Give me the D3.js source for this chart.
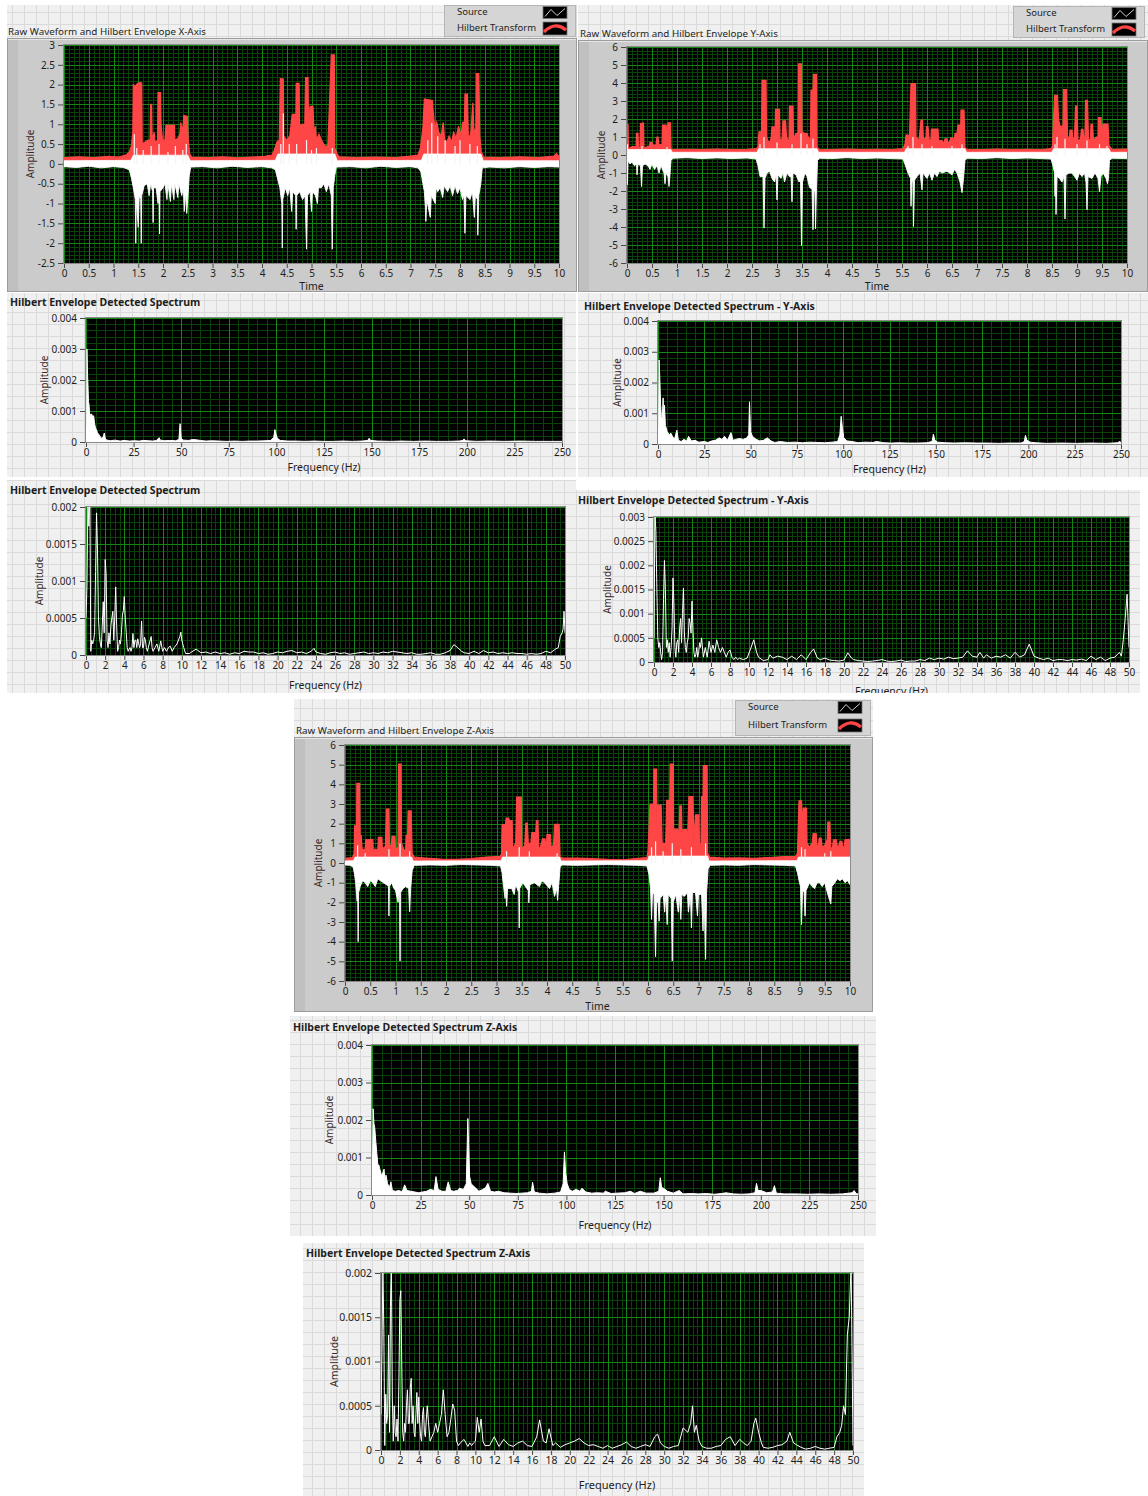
<!DOCTYPE html>
<html>
<head>
<meta charset="utf-8">
<script src="https://cdn.jsdelivr.net/npm/d3@7"></script>
<style>
  body { margin: 0; background: #ffffff; }
  svg { display: block; font-family: "Noto Sans", "DejaVu Sans", sans-serif; }
</style>
</head>
<body>
<script>
// ---------- tick labels ----------
const timeTicks = [0,0.5,1,1.5,2,2.5,3,3.5,4,4.5,5,5.5,6,6.5,7,7.5,8,8.5,9,9.5,10];
const ampTicksX = [3,2.5,2,1.5,1,0.5,0,-0.5,-1,-1.5,-2,-2.5];
const ampTicksYZ = [6,5,4,3,2,1,0,-1,-2,-3,-4,-5,-6];
const freqTicks250 = [0,25,50,75,100,125,150,175,200,225,250];
const freqTicks50 = [0,2,4,6,8,10,12,14,16,18,20,22,24,26,28,30,32,34,36,38,40,42,44,46,48,50];
const specTicks004 = [0,0.001,0.002,0.003,0.004];
const specTicks003 = [0,0.0005,0.001,0.0015,0.002,0.0025,0.003];
const specTicks002 = [0,0.0005,0.001,0.0015,0.002];

// ---------- X axis: raw waveform and Hilbert envelope [time s, amplitude] ----------
const envelopeX = [
 [0,0.16],[0.3,0.18],[0.6,0.16],[0.9,0.19],[1.1,0.17],[1.25,0.22],[1.32,0.3],
 [1.36,0.45],[1.39,0.8],[1.40,2.0],[1.44,1.95],[1.48,2.02],[1.53,2.05],[1.57,2.04],[1.58,0.5],
 [1.64,0.55],[1.70,0.6],[1.74,0.6],[1.75,1.5],[1.77,1.5],[1.78,0.6],[1.82,0.8],[1.84,0.55],
 [1.89,0.6],[1.90,1.8],[1.95,1.8],[1.96,1.0],[1.99,0.6],[2.04,0.6],[2.06,0.97],[2.23,0.97],
 [2.24,0.6],[2.30,0.65],[2.34,0.75],[2.36,1.05],[2.38,0.8],[2.41,1.0],[2.42,1.22],[2.49,1.2],
 [2.51,0.6],[2.54,0.25],[2.58,0.17],
 [2.9,0.16],[3.2,0.18],[3.5,0.15],[3.8,0.17],[4.05,0.19],[4.2,0.22],
 [4.25,0.35],[4.3,0.55],[4.35,0.6],[4.37,2.15],[4.43,2.14],[4.44,0.7],[4.5,0.6],[4.56,0.7],
 [4.61,1.25],[4.67,1.25],[4.68,0.7],[4.69,2.03],[4.75,2.03],[4.76,0.8],[4.79,1.0],[4.84,1.0],
 [4.86,0.7],[4.88,2.18],[4.93,2.18],[4.94,1.0],[4.97,1.45],[5.03,1.45],[5.05,0.8],[5.08,0.95],
 [5.1,0.6],[5.15,0.75],[5.2,0.6],[5.27,0.45],[5.33,0.45],[5.40,2.75],[5.46,2.75],[5.47,0.4],
 [5.52,0.25],[5.56,0.18],
 [5.9,0.16],[6.3,0.17],[6.7,0.16],[7.0,0.2],[7.15,0.22],[7.2,0.4],[7.25,0.9],
 [7.28,1.64],[7.44,1.6],[7.46,1.3],[7.49,0.9],[7.53,1.05],[7.57,0.8],[7.62,0.7],[7.66,1.05],
 [7.69,0.6],[7.73,0.55],[7.78,0.7],[7.83,0.55],[7.87,0.8],[7.92,0.65],[7.97,0.95],[8.02,0.7],
 [8.05,1.05],[8.09,1.05],[8.1,1.76],[8.15,1.76],[8.17,0.6],[8.22,0.8],[8.26,1.55],[8.28,0.8],
 [8.32,0.9],[8.33,2.28],[8.38,2.28],[8.4,0.7],[8.43,0.3],[8.48,0.17],
 [8.8,0.16],[9.2,0.18],[9.6,0.16],[9.9,0.2],[9.95,0.26],[10,0.18]
];
const sourceTopX = [[0,0.08],[1.35,0.09],[1.4,0.22],[2.5,0.22],[2.55,0.08],[4.27,0.09],[4.32,0.25],[5.47,0.25],[5.52,0.08],[7.22,0.09],[7.27,0.25],[8.42,0.25],[8.47,0.08],[10,0.08]];
const sourcePeaksX = [[1.42,0.75],[1.47,0.4],[1.6,0.35],[1.76,0.45],[1.92,0.5],[2.1,0.3],[2.25,0.45],[2.4,0.35],[2.47,0.5],[4.38,0.5],[4.43,1.28],[4.55,0.5],[4.7,0.5],[4.9,0.6],[5.0,0.35],[5.1,0.4],[5.42,0.4],[7.35,0.6],[7.43,1.03],[7.55,0.7],[7.7,0.6],[7.9,0.45],[8.0,0.6],[8.2,0.5],[8.35,0.45]];
const sourceTroughX = [
 [0,-0.07],[0.25,-0.09],[0.5,-0.06],[0.75,-0.1],[1.0,-0.07],[1.2,-0.09],[1.32,-0.15],
 [1.36,-0.35],[1.40,-0.6],[1.44,-0.9],[1.45,-2.0],[1.46,-0.9],[1.50,-1.6],[1.52,-0.8],[1.55,-0.9],[1.56,-2.0],[1.57,-0.8],
 [1.62,-0.55],[1.68,-0.5],[1.72,-0.8],[1.75,-0.5],[1.79,-0.7],[1.80,-1.48],[1.81,-0.6],[1.86,-0.6],[1.90,-1.0],[1.92,-0.7],
 [1.93,-1.77],[1.94,-0.7],[2.0,-0.6],[2.04,-0.5],[2.08,-0.9],[2.1,-0.5],[2.15,-0.95],[2.17,-0.5],[2.22,-0.9],[2.24,-0.5],
 [2.3,-0.85],[2.32,-0.5],[2.38,-0.8],[2.41,-0.6],[2.43,-1.2],[2.45,-0.7],[2.48,-1.25],[2.5,-0.9],[2.53,-0.3],[2.56,-0.08],
 [2.8,-0.07],[3.1,-0.1],[3.4,-0.06],[3.7,-0.09],[4.0,-0.07],[4.2,-0.1],[4.27,-0.15],
 [4.32,-0.4],[4.36,-0.6],[4.4,-1.0],[4.41,-2.12],[4.42,-0.9],[4.47,-0.6],[4.52,-0.8],[4.56,-0.6],[4.6,-1.2],[4.62,-0.7],
 [4.68,-0.8],[4.69,-1.65],[4.7,-0.8],[4.76,-0.7],[4.82,-0.9],[4.87,-0.8],[4.9,-2.15],[4.92,-0.8],[4.97,-0.7],[5.0,-1.2],[5.02,-0.7],
 [5.08,-0.8],[5.12,-1.0],[5.14,-0.6],[5.2,-0.6],[5.25,-0.5],[5.3,-0.7],[5.35,-0.5],[5.4,-0.8],[5.42,-2.15],[5.44,-0.6],[5.47,-0.3],[5.5,-0.08],
 [5.8,-0.07],[6.1,-0.1],[6.4,-0.06],[6.7,-0.09],[7.0,-0.07],[7.15,-0.1],[7.21,-0.2],
 [7.25,-0.5],[7.28,-0.7],[7.3,-1.1],[7.31,-1.45],[7.33,-0.9],[7.36,-1.1],[7.4,-1.35],[7.42,-0.8],[7.46,-0.9],[7.5,-1.0],[7.52,-0.6],
 [7.55,-0.7],[7.6,-0.6],[7.65,-0.85],[7.68,-0.55],[7.75,-0.7],[7.8,-0.55],[7.85,-0.8],[7.9,-0.55],[7.95,-0.75],[8.0,-0.6],
 [8.05,-0.9],[8.08,-0.8],[8.1,-1.75],[8.12,-0.8],[8.2,-0.9],[8.25,-0.7],[8.29,-1.35],[8.31,-0.8],[8.35,-0.9],[8.36,-1.8],[8.38,-0.8],
 [8.42,-0.5],[8.45,-0.1],[8.6,-0.08],[8.9,-0.1],[9.2,-0.07],[9.5,-0.09],[9.8,-0.07],[10,-0.08]
];

// ---------- Y axis: raw waveform and Hilbert envelope ----------
const envelopeY = [
 [0,1.72],[0.02,1.7],[0.03,0.35],[0.06,0.4],[0.1,0.46],[0.15,0.46],[0.18,0.45],[0.19,1.2],[0.22,1.2],[0.23,0.4],
 [0.26,0.45],[0.27,1.75],[0.33,1.78],[0.34,0.4],[0.4,0.45],[0.45,0.5],[0.46,0.7],[0.5,0.7],[0.52,0.55],[0.58,0.55],
 [0.6,1.0],[0.62,1.0],[0.64,0.55],[0.7,0.6],[0.71,1.66],[0.78,1.66],[0.8,1.4],[0.82,1.79],[0.87,1.79],[0.88,0.35],[0.92,0.3],
 [1.2,0.32],[1.5,0.3],[1.8,0.33],[2.1,0.3],[2.4,0.32],[2.58,0.35],
 [2.62,0.45],[2.64,1.29],[2.67,1.29],[2.69,1.0],[2.70,4.15],[2.78,4.15],[2.79,1.0],[2.84,0.65],[2.88,0.9],[2.9,1.57],[2.94,1.57],[2.96,1.0],
 [2.97,2.53],[3.05,2.53],[3.06,0.8],[3.1,0.9],[3.12,1.9],[3.17,1.9],[3.19,1.0],[3.24,0.7],[3.25,2.71],[3.32,2.71],[3.33,0.9],
 [3.38,1.2],[3.42,1.2],[3.43,5.07],[3.49,5.07],[3.5,1.3],[3.55,1.2],[3.6,1.2],[3.64,0.9],[3.67,0.9],[3.68,3.6],[3.72,3.6],[3.73,4.48],[3.79,4.48],[3.8,0.45],[3.84,0.32],
 [4.1,0.3],[4.4,0.33],[4.7,0.3],[5.0,0.32],[5.3,0.3],[5.52,0.35],
 [5.56,0.6],[5.58,1.1],[5.62,1.1],[5.65,1.0],[5.68,3.97],[5.77,3.97],[5.78,1.0],[5.84,0.8],[5.88,1.94],[5.91,1.94],[5.93,0.8],[5.98,1.0],[5.99,1.57],[6.02,1.57],[6.05,0.7],
 [6.08,0.9],[6.09,1.44],[6.22,1.44],[6.24,0.5],[6.26,0.8],[6.3,0.8],[6.33,0.6],[6.36,0.9],[6.4,0.9],[6.43,0.6],[6.48,0.95],[6.52,0.95],[6.54,0.6],
 [6.56,1.2],[6.6,1.2],[6.62,1.66],[6.65,1.66],[6.67,1.0],[6.68,2.49],[6.74,2.49],[6.76,0.4],[6.8,0.32],
 [7.1,0.3],[7.4,0.33],[7.7,0.3],[8.0,0.32],[8.3,0.3],[8.48,0.35],
 [8.51,0.5],[8.55,3.32],[8.61,3.32],[8.63,2.0],[8.66,1.6],[8.72,1.6],[8.73,3.63],[8.79,3.63],[8.81,1.0],[8.85,1.0],[8.86,1.38],[8.9,1.38],[8.92,0.8],
 [8.95,1.0],[8.97,2.71],[9.0,2.71],[9.02,0.75],[9.07,0.9],[9.09,1.42],[9.12,1.42],[9.14,0.9],[9.16,1.0],[9.17,3.04],[9.21,3.04],[9.23,0.8],
 [9.27,0.9],[9.28,1.7],[9.31,1.7],[9.33,0.8],[9.38,1.0],[9.42,1.0],[9.43,2.08],[9.48,2.08],[9.5,0.9],[9.52,1.72],[9.62,1.72],[9.64,0.5],[9.7,0.32],
 [10,0.33]
];
const sourceTopY = [[0,0.15],[0.02,0.3],[0.88,0.3],[0.9,0.15],[2.6,0.15],[2.63,0.35],[3.8,0.35],[3.83,0.15],[5.55,0.15],[5.58,0.35],[6.76,0.35],[6.79,0.15],[8.5,0.15],[8.53,0.35],[9.64,0.35],[9.67,0.15],[10,0.15]];
const sourcePeaksY = [[0.01,0.6],[0.3,0.5],[0.8,0.45],[2.66,0.6],[2.74,1.0],[3.0,0.7],[3.3,0.6],[3.48,1.2],[3.6,0.6],[3.72,0.9],[5.62,0.5],[5.72,1.0],[5.9,0.6],[6.1,0.5],[6.5,0.5],[6.7,0.6],[8.56,0.6],[8.6,1.0],[8.76,0.9],[9.0,0.6],[9.2,0.8],[9.45,0.6],[9.6,0.5]];
const sourceTroughY = [
 [0,-1.66],[0.01,-1.6],[0.02,-0.3],[0.06,-0.5],[0.1,-0.4],[0.15,-0.6],[0.19,-0.5],[0.2,-1.1],[0.22,-0.5],[0.27,-0.6],[0.29,-1.75],[0.31,-0.6],
 [0.36,-0.5],[0.42,-0.6],[0.46,-0.8],[0.5,-0.5],[0.55,-0.8],[0.6,-0.6],[0.64,-1.0],[0.68,-0.6],[0.74,-1.0],[0.76,-1.6],[0.78,-1.0],[0.82,-1.2],[0.84,-1.75],[0.86,-1.1],[0.88,-0.3],[0.92,-0.18],
 [1.2,-0.15],[1.5,-0.2],[1.8,-0.16],[2.1,-0.2],[2.4,-0.17],[2.58,-0.22],
 [2.62,-0.6],[2.66,-1.2],[2.72,-1.2],[2.74,-4.06],[2.76,-1.3],[2.8,-1.0],[2.85,-0.9],[2.9,-1.3],[2.95,-1.5],[2.98,-1.1],[3.0,-2.5],[3.02,-1.1],
 [3.08,-1.3],[3.12,-1.0],[3.15,-1.5],[3.2,-1.0],[3.25,-1.2],[3.28,-1.2],[3.3,-2.6],[3.32,-1.0],[3.38,-1.1],[3.44,-1.5],[3.47,-1.4],[3.49,-5.04],[3.51,-1.5],
 [3.56,-1.0],[3.6,-1.2],[3.65,-1.8],[3.7,-1.9],[3.72,-4.15],[3.74,-2.0],[3.76,-2.0],[3.77,-4.1],[3.79,-1.8],[3.81,-0.3],[3.85,-0.18],
 [4.1,-0.2],[4.4,-0.15],[4.7,-0.2],[5.0,-0.17],[5.3,-0.2],[5.52,-0.22],
 [5.57,-0.6],[5.62,-1.0],[5.67,-1.3],[5.68,-2.85],[5.7,-1.5],[5.72,-1.4],[5.73,-3.97],[5.75,-1.4],[5.8,-1.2],[5.86,-1.0],[5.9,-1.94],[5.92,-1.0],
 [6.0,-1.3],[6.05,-1.0],[6.1,-1.4],[6.15,-1.0],[6.2,-1.2],[6.25,-0.9],[6.3,-1.0],[6.4,-0.9],[6.5,-1.1],[6.55,-0.8],[6.6,-1.0],[6.66,-1.5],[6.7,-2.09],[6.73,-1.3],[6.76,-0.3],[6.8,-0.18],
 [7.1,-0.2],[7.4,-0.15],[7.7,-0.2],[8.0,-0.17],[8.3,-0.2],[8.48,-0.22],
 [8.52,-0.6],[8.55,-1.0],[8.56,-2.3],[8.57,-1.2],[8.58,-3.3],[8.6,-1.2],[8.65,-1.3],[8.7,-1.5],[8.74,-1.2],[8.76,-3.56],[8.78,-1.1],[8.84,-1.0],[8.9,-1.0],[8.95,-1.2],[9.0,-1.4],[9.05,-1.0],
 [9.1,-1.2],[9.15,-1.0],[9.18,-1.5],[9.2,-3.04],[9.22,-1.2],[9.3,-1.3],[9.36,-1.0],[9.42,-1.3],[9.45,-2.03],[9.48,-1.2],[9.52,-1.0],[9.58,-1.3],[9.61,-1.6],[9.63,-1.3],[9.65,-0.3],[9.7,-0.18],
 [10,-0.2]
];

// ---------- Z axis: raw waveform and Hilbert envelope ----------
const envelopeZ = [
 [0,0.24],[0.08,0.26],[0.15,0.28],[0.18,0.5],[0.19,1.89],[0.23,1.89],[0.235,4.05],[0.29,4.05],[0.3,1.39],[0.32,1.39],[0.34,0.7],[0.4,0.7],
 [0.41,1.18],[0.55,1.2],[0.56,0.7],[0.65,0.7],[0.66,1.3],[0.73,1.3],[0.74,0.7],[0.8,0.85],[0.82,2.74],[0.87,2.74],[0.88,0.9],[0.92,0.9],
 [0.93,1.35],[0.99,1.35],[1.0,0.7],[1.05,0.8],[1.06,5.03],[1.11,5.03],[1.12,1.0],[1.16,0.7],[1.2,0.6],[1.21,1.4],[1.24,1.4],[1.25,2.65],[1.31,2.65],[1.33,0.5],[1.37,0.3],
 [1.6,0.25],[1.9,0.2],[2.2,0.18],[2.5,0.22],[2.8,0.3],[3.0,0.32],[3.08,0.33],
 [3.1,0.5],[3.11,1.95],[3.18,1.95],[3.19,2.28],[3.24,2.28],[3.26,2.15],[3.31,2.15],[3.32,0.7],[3.38,1.0],[3.4,3.35],[3.49,3.35],[3.5,0.7],[3.56,0.9],
 [3.58,2.03],[3.61,2.03],[3.63,1.0],[3.68,1.0],[3.7,1.55],[3.75,1.55],[3.77,1.2],[3.79,2.16],[3.82,2.16],[3.84,0.6],[3.89,1.0],[3.91,1.23],[3.96,1.23],[3.98,0.7],
 [4.0,1.44],[4.07,1.44],[4.08,0.8],[4.13,0.9],[4.15,1.97],[4.24,1.97],[4.26,0.3],[4.3,0.26],
 [4.6,0.25],[4.9,0.22],[5.2,0.18],[5.5,0.16],[5.8,0.24],[5.98,0.28],
 [6.0,0.6],[6.04,2.99],[6.11,2.99],[6.115,4.78],[6.17,4.78],[6.18,1.2],[6.19,1.2],[6.2,2.95],[6.26,2.95],[6.28,1.0],[6.35,1.0],[6.37,3.18],[6.41,3.18],[6.42,1.0],
 [6.44,5.03],[6.5,5.03],[6.51,1.0],[6.52,1.72],[6.59,1.72],[6.61,1.0],[6.63,2.9],[6.66,2.9],[6.68,1.0],[6.7,1.7],[6.76,1.7],[6.78,1.0],[6.81,3.38],[6.89,3.38],[6.91,1.0],
 [6.94,2.45],[7.0,2.45],[7.02,0.9],[7.05,1.0],[7.06,3.38],[7.09,3.38],[7.095,4.95],[7.17,4.95],[7.18,0.5],[7.22,0.3],
 [7.5,0.25],[7.8,0.26],[8.1,0.24],[8.4,0.28],[8.7,0.33],[8.92,0.33],
 [8.96,0.5],[8.99,3.16],[9.04,3.16],[9.06,2.1],[9.08,2.79],[9.14,2.79],[9.15,1.0],[9.2,0.8],[9.25,1.0],[9.27,1.49],[9.33,1.49],[9.35,0.7],[9.38,1.0],[9.39,1.27],[9.43,1.27],[9.45,0.8],
 [9.5,0.9],[9.55,1.2],[9.56,2.08],[9.6,2.08],[9.62,0.8],[9.65,0.7],[9.67,1.18],[9.73,1.18],[9.75,0.8],[9.78,0.9],[9.8,1.1],[9.84,1.1],[9.86,0.7],[9.89,0.9],[9.9,1.18],[10,1.2]
];
const sourceTopZ = [[0,0.1],[0.17,0.12],[0.2,0.3],[1.32,0.3],[1.35,0.1],[3.09,0.12],[3.12,0.3],[4.25,0.3],[4.28,0.1],[5.99,0.12],[6.02,0.35],[7.18,0.35],[7.21,0.1],[8.95,0.12],[8.98,0.3],[10,0.3]];
const sourcePeaksZ = [[0.25,0.9],[0.4,0.5],[0.87,0.7],[1.09,1.0],[1.28,0.6],[3.2,0.6],[3.45,0.8],[3.65,0.6],[4.2,0.5],[6.07,0.8],[6.15,1.1],[6.3,0.6],[6.48,1.0],[6.65,0.7],[6.86,0.8],[7.14,1.0],[9.04,0.8],[9.11,0.7],[9.5,0.5],[9.62,0.6]];
const sourceTroughZ = [
 [0,-0.1],[0.1,-0.12],[0.16,-0.2],[0.19,-0.6],[0.21,-1.0],[0.24,-1.94],[0.25,-1.2],[0.26,-4.0],[0.27,-1.5],[0.3,-1.2],[0.35,-0.9],[0.4,-1.0],[0.45,-1.2],[0.5,-0.9],[0.55,-1.0],[0.6,-1.2],
 [0.65,-0.8],[0.7,-0.9],[0.76,-1.0],[0.82,-1.1],[0.86,-1.2],[0.87,-2.7],[0.88,-1.2],[0.92,-1.0],[0.97,-1.3],[1.0,-1.4],[1.05,-2.0],[1.08,-1.4],[1.09,-4.98],[1.1,-1.5],[1.15,-1.3],[1.2,-1.2],
 [1.26,-1.3],[1.28,-2.48],[1.3,-1.3],[1.33,-0.4],[1.37,-0.12],
 [1.7,-0.1],[2.0,-0.12],[2.3,-0.08],[2.6,-0.1],[2.9,-0.12],[3.08,-0.15],
 [3.11,-0.5],[3.14,-1.2],[3.17,-1.8],[3.18,-1.2],[3.2,-2.2],[3.22,-1.3],[3.3,-1.3],[3.35,-1.6],[3.38,-1.1],[3.44,-1.5],[3.45,-3.3],[3.46,-1.3],[3.52,-1.0],[3.6,-1.3],
 [3.63,-1.4],[3.64,-2.03],[3.66,-1.1],[3.75,-1.0],[3.85,-1.2],[3.9,-0.9],[3.95,-1.0],[4.05,-1.3],[4.1,-1.0],[4.15,-1.7],[4.19,-1.3],[4.21,-1.9],[4.23,-1.2],[4.26,-0.2],[4.3,-0.1],
 [4.6,-0.12],[4.9,-0.1],[5.2,-0.08],[5.5,-0.1],[5.8,-0.12],[5.98,-0.15],
 [6.02,-0.6],[6.05,-1.3],[6.07,-2.87],[6.09,-1.5],[6.12,-1.6],[6.15,-4.76],[6.17,-2.0],[6.2,-2.0],[6.22,-2.96],[6.24,-1.8],[6.3,-1.6],[6.33,-2.5],[6.35,-1.6],[6.38,-3.13],[6.4,-1.6],
 [6.46,-1.8],[6.48,-4.98],[6.5,-2.0],[6.55,-1.6],[6.6,-2.5],[6.62,-1.6],[6.65,-2.87],[6.67,-1.6],[6.72,-1.7],[6.78,-1.5],[6.8,-2.5],[6.84,-1.6],[6.86,-3.3],[6.88,-1.5],[6.94,-1.5],
 [6.98,-2.7],[7.0,-1.6],[7.06,-1.6],[7.09,-3.46],[7.11,-1.6],[7.14,-4.9],[7.16,-1.5],[7.19,-0.3],[7.23,-0.12],
 [7.5,-0.1],[7.8,-0.12],[8.1,-0.08],[8.4,-0.1],[8.7,-0.12],[8.92,-0.15],
 [8.96,-0.5],[9.0,-1.0],[9.02,-1.2],[9.04,-3.13],[9.06,-1.5],[9.09,-1.4],[9.11,-2.7],[9.13,-1.4],[9.2,-1.0],[9.25,-1.2],[9.3,-1.3],[9.35,-1.0],[9.4,-1.0],[9.45,-1.2],[9.5,-1.0],
 [9.55,-1.5],[9.62,-2.08],[9.64,-1.2],[9.7,-1.0],[9.75,-0.8],[9.8,-0.9],[9.85,-0.8],[9.9,-1.0],[9.95,-0.9],[10,-1.1]
];

// ---------- envelope spectra 0-250 Hz [frequency Hz, amplitude] ----------
const spectrumX250 = [
 [0,0.0005],[0.3,0.0003],[0.5,0.003],[0.8,0.0022],[1,0.0019],[1.3,0.0013],[1.6,0.0012],[2,0.0008],[2.5,0.0009],[3,0.0009],[3.5,0.0008],[4,0.00085],[4.5,0.0006],[5,0.00045],[5.5,0.0004],[6,0.0003],[7,0.00022],[8,0.00012],[9,0.00015],[9.6,0.00029],[10.2,0.0001],[11,0.00006],
 [13,0.00004],[15,0.00006],[18,0.00003],[20,0.00005],[23,0.00003],[25,0.00004],[28,0.00003],[30,0.00005],[33,0.00004],[35,0.00003],[37,0.00005],[38.4,0.00014],[39,0.00006],[41,0.00004],[44,0.00005],[47,0.00004],[48.8,0.00008],[49.4,0.00059],[50,0.00012],[51,0.00006],
 [54,0.00005],[56,0.00008],[58,0.00007],[60,0.00005],[63,0.00003],[66,0.00004],[70,0.00003],[74,0.00002],[78,0.00003],[82,0.00002],[86,0.00003],[90,0.00003],[94,0.00004],[97,0.00005],[98.6,0.00015],[99.2,0.0004],[99.8,0.00025],[100.5,0.00012],[102,0.00005],
 [106,0.00003],[110,0.00003],[115,0.00002],[120,0.00003],[125,0.00002],[130,0.00002],[135,0.00003],[140,0.00002],[145,0.00003],[148,0.00005],[148.7,0.00012],[149.5,0.00005],[153,0.00003],
 [160,0.00002],[166,0.00003],[172,0.00002],[178,0.00003],[184,0.00002],[190,0.00002],[196,0.00003],[198,0.00005],[198.5,0.0001],[199.5,0.00004],[205,0.00002],[212,0.00003],[220,0.00002],[228,0.00003],[236,0.00002],[244,0.00002],[250,0.00002]
];
const spectrumY250 = [
 [0,0.0005],[0.3,0.0004],[0.6,0.00273],[1,0.0021],[1.4,0.0013],[1.8,0.0009],[2.3,0.0008],[2.76,0.0015],[3.1,0.0007],[3.5,0.00126],[4,0.0006],[5,0.0004],[6,0.0003],[7,0.00035],[8,0.00022],[9,0.00018],[10.2,0.00045],[11,0.00012],[12.5,0.00008],
 [14,0.00015],[15.5,0.0001],[16.5,0.00025],[18,0.0001],[20,0.00012],[22,0.00006],[25,0.00008],[27,0.00005],[29,0.0001],[31,0.00012],[33,0.0002],[34.5,0.00015],[36,0.00025],[37.5,0.00012],[39.4,0.00037],[40.5,0.00012],[42,0.00015],[44,0.00018],[46,0.00015],[48,0.0002],[49,0.0003],[49.4,0.00137],[50,0.0004],[51,0.00025],
 [53,0.00015],[55,0.0001],[57,0.00012],[59,0.0002],[61,0.0001],[63,0.00005],[66,0.00008],[70,0.00005],[74,0.00006],[78,0.00004],[82,0.00006],[86,0.00005],[90,0.00004],[94,0.00006],[97,0.00008],[98.2,0.0003],[98.9,0.0009],[99.6,0.0005],[100.3,0.0002],[102,0.0001],
 [105,0.00008],[108,0.00004],[112,0.00006],[116,0.00005],[118,0.00008],[122,0.00004],[126,0.00003],[130,0.00004],[135,0.00003],[140,0.00003],[145,0.00004],[148,0.00008],[148.7,0.00032],[149.5,0.00012],[151,0.00006],[155,0.00004],
 [160,0.00003],[166,0.00004],[172,0.00003],[178,0.00003],[184,0.00002],[190,0.00003],[196,0.00003],[197.8,0.00008],[198.4,0.00028],[199.2,0.00012],[201,0.00006],[204,0.00004],[210,0.00002],[218,0.00003],[226,0.00002],[234,0.00003],[242,0.00002],[248,0.00004],[249.5,0.00008],[250,0.00003]
];
const spectrumZ250 = [
 [0,0.0011],[0.3,0.0009],[0.6,0.0023],[1,0.0019],[1.4,0.0018],[2,0.0014],[2.5,0.0011],[3,0.0008],[3.5,0.0008],[4,0.0007],[5,0.0005],[6.2,0.00069],[6.7,0.00035],[7.2,0.00053],[8,0.0003],[9,0.0002],[9.7,0.00035],[10.5,0.00012],[12,0.0001],
 [14,0.00012],[15.5,0.00008],[16.8,0.00027],[18,0.00012],[20,0.0001],[22,0.00008],[24,0.00006],[26,0.00008],[28,0.0001],[30,0.00015],[32,0.00012],[32.9,0.00049],[34,0.00015],[36,0.0001],[38,0.0001],[39.2,0.00035],[40.5,0.00012],[42,0.0001],[44,0.00012],[45,0.00018],[47,0.00015],[48.5,0.0003],[49.3,0.00204],[49.7,0.00133],[50.2,0.0005],[51,0.0003],
 [53,0.0002],[55,0.0001],[57,0.00015],[58.5,0.0002],[59.6,0.00031],[61,0.0001],[63,0.00008],[65,0.0001],[68,0.00006],[71,0.00005],[74,0.00004],[77,0.00005],[80,0.00006],[82,0.0001],[82.6,0.00034],[83.5,0.00008],[86,0.00005],[90,0.00003],[94,0.00005],[97,0.00008],[98.3,0.0003],[99,0.00115],[99.6,0.0006],[100.4,0.0003],[101.5,0.00015],
 [103,0.0001],[105,0.00015],[107,0.0001],[108,0.00018],[110,0.00008],[113,0.00005],[116,0.00006],[119,0.00005],[120,0.0001],[123,0.00004],[126,0.00005],[130,0.00006],[133,0.0001],[135,0.00004],[138,0.0001],[141,0.00005],[145,0.00005],[147.5,0.0001],[148.3,0.00046],[149,0.0002],[150,0.00018],[152,0.0001],
 [155,0.00005],[158,0.00012],[160,0.00003],[164,0.00004],[168,0.00003],[172,0.00004],[176,0.00002],[180,0.00004],[182,0.00006],[186,0.00003],[190,0.00002],[194,0.00003],[197,0.00006],[197.8,0.00031],[198.6,0.00012],[200,0.00012],[203,0.00006],[206,0.00008],[207,0.00025],[208,0.00005],[212,0.00003],[218,0.00003],[224,0.00002],[230,0.00003],[236,0.00002],[242,0.00003],[247,0.00006],[248,0.00012],[249,0.00004],[250,0.00003]
];

// ---------- envelope spectra 0-50 Hz ----------
const spectrumX50 = [
 [0,0.0005],[0.1,0.00093],[0.2,0.0021],[0.3,0.00174],[0.4,0.0022],[0.5,0.00005],[0.6,0.0002],[0.7,0.00015],[0.8,0.0002],[0.9,0.0003],
 [1.0,0.00113],[1.1,0.00192],[1.2,0.00143],[1.3,0.0005],[1.4,0.00025],[1.5,0.00015],[1.6,0.0001],[1.7,0.0004],[1.8,0.00072],[1.9,0.0003],
 [2.0,0.00129],[2.1,0.0011],[2.2,0.0002],[2.3,0.0001],[2.4,0.0003],[2.5,0.00015],[2.6,0.0004],[2.7,0.0005],[2.8,0.00059],[2.9,0.0002],
 [3.0,0.0005],[3.1,0.00092],[3.2,0.0004],[3.3,0.00005],[3.4,0.0001],[3.5,0.0002],[3.6,0.00015],[3.7,0.0003],[3.8,0.00054],[3.9,0.0006],
 [4.0,0.00079],[4.1,0.0005],[4.2,0.0003],[4.3,0.0001],[4.4,0.00005],[4.5,0.00008],[4.6,0.0001],[4.7,0.00005],[4.8,0.0001],[4.9,0.00029],
 [5.0,0.0001],[5.1,0.0002],[5.2,0.0002],[5.3,0.0001],[5.4,0.00022],[5.5,0.00015],[5.6,0.0001],[5.7,0.00015],[5.8,0.00046],[5.9,0.0001],
 [6.0,0.0001],[6.1,0.00024],[6.2,0.0002],[6.3,0.0001],[6.4,0.00005],[6.5,0.0001],[6.6,0.00015],[6.8,0.00025],[6.9,0.0001],[7.0,0.00005],
 [7.2,0.0001],[7.4,0.00015],[7.6,0.00005],[7.8,0.00019],[8.0,0.00005],[8.2,0.0001],[8.4,0.00005],[8.6,0.0001],[8.8,0.00012],[9.0,0.00005],
 [9.2,0.0001],[9.5,0.00015],[9.8,0.00025],[9.9,0.00031],[10.0,0.0002],[10.2,0.0001],[10.4,0.00002],[10.8,0.00002],[11.0,0.00004],[11.5,0.00008],
 [12,0.00003],[12.5,0.00004],[13,0.00002],[13.5,0.00004],[14,0.00002],[14.5,0.00003],[15,0.00001],[15.5,0.00003],[16,0.00002],[16.5,0.00005],
 [17,0.00004],[17.5,0.00004],[18,0.00002],[18.5,0.00003],[19,0.00001],[19.5,0.00002],[20,0.00004],[20.5,0.00003],[21,0.00005],[21.5,0.00006],
 [22,0.00003],[22.5,0.00004],[23,0.00002],[23.5,0.00005],[23.8,0.00009],[24,0.00004],[24.5,0.00002],[25,0.00001],[25.5,0.00003],[26,0.00004],
 [26.5,0.00002],[27,0.00003],[27.5,0.00001],[28,0.00002],[28.5,0.00003],[29,0.00004],[29.5,0.00002],[30,0.00003],[30.5,0.00002],[31,0.00004],
 [31.5,0.00003],[32,0.00005],[32.5,0.00004],[33,0.00003],[33.5,0.00002],[34,0.00003],[34.5,0.00001],[35,0.00001],[35.5,0.00002],[36,0.00003],
 [36.5,0.00001],[37,0.00001],[37.5,0.00003],[38,0.00006],[38.4,0.00014],[38.8,0.0001],[39.2,0.00005],[39.5,0.00003],[40,0.00002],[40.5,0.00005],
 [41,0.00002],[41.5,0.00006],[42,0.00003],[42.5,0.00004],[43,0.00002],[43.5,0.00003],[44,0.00002],[44.5,0.00003],[45,0.00002],[45.5,0.00002],
 [46,0.00001],[46.5,0.00002],[47,0.00001],[47.5,0.00002],[48,0.00005],[48.5,0.00003],[49,0.00008],[49.3,0.0001],[49.5,0.00025],[49.7,0.0003],
 [49.8,0.00035],[49.9,0.00059],[50,0.0003]
];
const spectrumY50 = [
 [0,0.0005],[0.1,0.0031],[0.2,0.0027],[0.3,0.00153],[0.4,0.0005],[0.5,0.0003],[0.6,0.0004],[0.7,0.0002],[0.8,0.00005],[0.9,0.0002],
 [1.0,0.00129],[1.1,0.0021],[1.2,0.0015],[1.3,0.0003],[1.4,0.00046],[1.5,0.0002],[1.6,0.0004],[1.7,0.0001],[1.8,0.0003],[1.9,0.0007],
 [2.0,0.00174],[2.1,0.0012],[2.2,0.0003],[2.3,0.0001],[2.4,0.0004],[2.5,0.00046],[2.6,0.0002],[2.7,0.0007],[2.8,0.0009],[2.9,0.0004],
 [3.0,0.001],[3.1,0.00153],[3.2,0.0006],[3.3,0.0003],[3.4,0.0002],[3.5,0.0004],[3.6,0.0005],[3.7,0.0009],[3.8,0.0008],[3.9,0.0006],
 [4.0,0.00126],[4.1,0.0007],[4.2,0.0002],[4.3,0.0001],[4.4,0.00015],[4.5,0.0003],[4.6,0.0001],[4.7,0.0002],[4.8,0.0004],[4.9,0.0003],
 [5.0,0.0005],[5.2,0.0001],[5.4,0.0003],[5.6,0.0001],[5.8,0.00043],[6.0,0.0002],[6.2,0.00035],[6.4,0.0002],[6.6,0.00046],[6.8,0.0003],
 [7.0,0.0002],[7.2,0.0003],[7.4,0.0002],[7.6,0.0001],[7.8,0.0002],[8.0,0.00025],[8.2,0.0001],[8.4,0.00005],[8.6,0.0001],[8.8,0.00005],
 [9.0,0.00008],[9.4,0.00005],[9.8,0.00008],[10.2,0.00029],[10.5,0.00046],[10.8,0.0002],[11.0,0.0001],[11.5,0.00003],[12,0.00005],[12.2,0.00015],
 [12.5,0.00008],[13,0.00012],[13.5,0.0001],[14,0.00005],[14.5,0.00012],[15,0.00005],[15.5,0.00015],[16,0.00005],[16.5,0.0002],[16.8,0.00027],
 [17.2,0.00008],[17.5,0.00005],[18,0.00008],[18.5,0.00004],[19,0.00003],[19.5,0.00002],[20,0.00004],[20.4,0.00019],[20.8,0.00008],[21,0.00005],
 [21.5,0.00003],[22,0.00002],[22.5,0.00001],[23,0.00002],[23.5,0.00003],[24,0.00005],[24.5,0.00002],[25,0.00001],[25.5,0.00002],[26,0.00004],
 [26.5,0.00001],[27,0.00002],[27.5,0.00002],[28,0.00005],[28.5,0.00003],[29,0.00008],[29.5,0.00005],[30,0.00008],[30.5,0.00006],[31,0.0001],
 [31.5,0.00007],[32,0.00008],[32.5,0.0001],[33,0.00023],[33.5,0.00012],[34,0.0001],[34.3,0.0002],[34.7,0.00008],[35,0.00015],[35.5,0.00008],
 [36,0.00012],[36.5,0.0001],[37,0.00015],[37.5,0.00008],[38,0.0002],[38.5,0.0001],[39,0.00015],[39.5,0.00037],[40,0.00012],[40.5,0.00008],
 [41,0.00005],[41.5,0.00008],[42,0.00003],[42.5,0.00005],[43,0.00005],[43.5,0.00003],[44,0.00005],[44.5,0.00004],[45,0.00006],[45.5,0.00003],
 [46,0.00012],[46.5,0.00005],[47,0.0001],[47.5,0.00003],[48,0.00008],[48.5,0.0001],[49,0.0002],[49.2,0.00012],[49.4,0.00046],[49.6,0.0009],
 [49.8,0.0014],[50,0.0003]
];
const spectrumZ50 = [
 [0,0.0004],[0.1,0.0011],[0.2,0.0021],[0.3,0.00135],[0.4,0.00005],[0.5,0.00063],[0.6,0.0003],[0.7,0.0004],[0.8,0.0013],[0.9,0.0002],
 [1.0,0.00162],[1.1,0.0021],[1.2,0.00059],[1.3,0.0001],[1.4,0.0005],[1.5,0.0002],[1.6,0.00015],[1.7,0.00035],[1.8,0.0001],[1.9,0.0008],
 [2.0,0.0017],[2.1,0.0018],[2.2,0.00096],[2.3,0.0002],[2.4,0.0001],[2.5,0.0003],[2.6,0.0002],[2.7,0.0005],[2.8,0.00068],[2.9,0.0003],
 [3.0,0.0003],[3.1,0.0007],[3.2,0.00081],[3.3,0.0003],[3.4,0.0005],[3.5,0.0002],[3.6,0.00015],[3.7,0.0004],[3.8,0.00065],[3.9,0.0003],
 [4.0,0.0006],[4.1,0.0003],[4.2,0.00015],[4.3,0.0001],[4.4,0.0004],[4.5,0.00048],[4.6,0.0002],[4.7,0.00015],[4.8,0.00035],[4.9,0.0005],
 [5.0,0.00035],[5.2,0.0001],[5.4,0.00015],[5.6,0.0002],[5.8,0.0003],[6.0,0.0002],[6.2,0.0003],[6.4,0.0004],[6.6,0.00068],[6.8,0.0004],
 [7.0,0.00015],[7.2,0.0002],[7.4,0.00035],[7.6,0.00052],[7.8,0.00045],[8.0,0.0001],[8.2,0.00005],[8.4,0.00008],[8.6,0.0001],[8.8,0.00012],
 [9.0,0.00008],[9.2,0.00004],[9.4,0.00008],[9.6,0.00005],[9.8,0.00008],[10.0,0.0001],[10.2,0.00037],[10.4,0.0002],[10.6,0.00035],[10.8,0.0001],
 [11.0,0.00005],[11.5,0.00005],[12.0,0.00015],[12.5,0.00004],[13,0.00012],[13.5,0.00006],[14,0.00004],[14.5,0.00008],[15,0.0001],[15.5,0.00005],
 [16,0.00004],[16.5,0.00015],[16.8,0.00034],[17.2,0.0001],[17.5,0.00008],[17.8,0.00024],[18.2,0.00005],[18.5,0.00008],[19,0.00003],[19.5,0.00006],
 [20,0.00008],[20.5,0.0001],[21,0.00013],[21.5,0.00008],[22,0.00005],[22.5,0.00006],[23,0.00004],[23.5,0.00002],[24,0.00005],[24.5,0.00002],
 [25,0.00004],[25.5,0.00006],[26,0.00009],[26.5,0.00004],[27,0.00002],[27.5,0.00004],[28,0.00006],[28.5,0.00004],[29,0.00015],[29.3,0.00018],
 [29.6,0.00008],[30,0.00004],[30.5,0.00002],[31,0.00004],[31.5,0.00005],[32,0.00025],[32.5,0.0002],[32.8,0.0003],[33.0,0.0005],[33.2,0.0002],
 [33.4,0.00028],[33.7,0.0001],[34,0.00004],[34.5,0.00002],[35,0.00002],[35.5,0.00004],[36,0.00005],[36.5,0.00012],[37,0.00015],[37.5,0.00005],
 [38,0.00012],[38.4,0.00008],[38.8,0.00005],[39.2,0.0001],[39.5,0.0003],[39.7,0.00036],[40,0.0002],[40.3,0.00008],[40.5,0.00003],[41,0.00002],
 [41.5,0.00003],[42,0.00005],[42.5,0.00006],[43,0.0001],[43.3,0.0002],[43.7,0.00008],[44,0.00006],[44.5,0.00003],[45,0.00001],[45.5,0.00002],
 [46,0.00004],[46.5,0.00002],[47,0.00001],[47.5,0.00002],[48,0.00003],[48.3,0.00015],[48.6,0.0002],[48.8,0.00028],[49.0,0.0005],[49.2,0.0004],
 [49.4,0.0013],[49.6,0.0015],[49.8,0.0021],[50,0.00005]
];

// ---------- drawing ----------
const RED = "#ff4646";
const TEXT = "#1e1e1e";
const W = 1148, H = 1496;

const svg = d3.select("body").append("svg").attr("width", W).attr("height", H);
const defs = svg.append("defs");

// front-panel grid texture
const pat = defs.append("pattern").attr("id", "panelGrid")
  .attr("patternUnits", "userSpaceOnUse").attr("width", 12).attr("height", 12);
pat.append("rect").attr("width", 12).attr("height", 12).attr("fill", "#f0f0f0");
pat.append("path").attr("d", "M0 0.5H12M0.5 0V12").attr("stroke", "#dadada").attr("stroke-width", 1);

function panelBg(x0, y0, x1, y1) {
  svg.append("rect").attr("x", x0).attr("y", y0).attr("width", x1 - x0).attr("height", y1 - y0)
    .attr("fill", "url(#panelGrid)");
}

function graphFrame(x0, y0, x1, y1) {
  const g = svg.append("g").attr("shape-rendering", "crispEdges");
  g.append("rect").attr("x", x0 + 0.5).attr("y", y0 + 0.5).attr("width", x1 - x0 - 1).attr("height", y1 - y0 - 1)
    .attr("fill", "#cbcbcb").attr("stroke", "#9c9c9c");
  g.append("rect").attr("x", x0 + 1).attr("y", y0 + 1).attr("width", 10).attr("height", y1 - y0 - 2).attr("fill", "#c0c0c0");
  g.append("line").attr("x1", x0 + 1).attr("x2", x1 - 1).attr("y1", y0 + 1.5).attr("y2", y0 + 1.5).attr("stroke", "#e6e6e6");
}

function title(x, y, text, bold) {
  svg.append("text").attr("x", x).attr("y", y).text(text)
    .attr("font-size", bold ? 10.5 : 9.8).attr("font-weight", bold ? 700 : 400).attr("fill", TEXT);
}

function legend(x0, y0, x1, y1) {
  const g = svg.append("g");
  g.append("rect").attr("x", x0 + 0.5).attr("y", y0 + 0.5).attr("width", x1 - x0 - 1).attr("height", y1 - y0 - 1)
    .attr("fill", "#d5d5d5").attr("stroke", "#b5b5b5");
  const mid = (y0 + y1) / 2;
  const sx = x1 - 33;
  g.append("text").attr("x", x0 + 13).attr("y", y0 + 10).text("Source").attr("font-size", 9.5).attr("fill", TEXT);
  g.append("text").attr("x", x0 + 13).attr("y", mid + 10).text("Hilbert Transform").attr("font-size", 9.5).attr("fill", TEXT);
  g.append("rect").attr("x", sx).attr("y", y0 + 1.5).attr("width", 24).attr("height", 12)
    .attr("fill", "#000").attr("stroke", "#777").attr("stroke-width", 0.8);
  g.append("path").attr("d", `M${sx + 2},${y0 + 11.5} L${sx + 8},${y0 + 4.5} L${sx + 14},${y0 + 10.5} L${sx + 22},${y0 + 3.5}`)
    .attr("fill", "none").attr("stroke", "#e8e8e8").attr("stroke-width", 0.9);
  g.append("rect").attr("x", sx).attr("y", mid + 1).attr("width", 24).attr("height", 13)
    .attr("fill", "#000").attr("stroke", "#777").attr("stroke-width", 0.8);
  g.append("path").attr("d", `M${sx + 1},${mid + 11} Q${sx + 12},${mid + 0} ${sx + 23},${mid + 9}`)
    .attr("fill", "none").attr("stroke", RED).attr("stroke-width", 3.2);
}

let clipCount = 0;
function steps(lo, hi, step) {
  const n = Math.round((hi - lo) / step);
  return d3.range(n + 1).map(i => lo + i * step);
}

function makePlot(o) {
  const x = d3.scaleLinear().domain(o.xDomain).range([o.left, o.right]);
  const y = d3.scaleLinear().domain(o.yDomain).range([o.bottom, o.top]);
  const g = svg.append("g");
  g.append("rect").attr("x", o.left).attr("y", o.top).attr("width", o.right - o.left).attr("height", o.bottom - o.top)
    .attr("fill", "#000");
  const grid = g.append("g").attr("shape-rendering", "crispEdges");
  const px = v => Math.round(x(v)) + 0.5;
  const py = v => Math.round(y(v)) + 0.5;
  grid.selectAll(".mx").data(steps(o.xDomain[0], o.xDomain[1], o.xMinor)).join("line")
    .attr("x1", px).attr("x2", px).attr("y1", o.top).attr("y2", o.bottom).attr("stroke", "#0a430a");
  grid.selectAll(".my").data(steps(o.yDomain[0], o.yDomain[1], o.yMinor)).join("line")
    .attr("y1", py).attr("y2", py).attr("x1", o.left).attr("x2", o.right).attr("stroke", "#0a430a");
  grid.selectAll(".Mx").data(o.xTicks).join("line")
    .attr("x1", px).attr("x2", px).attr("y1", o.top).attr("y2", o.bottom).attr("stroke", "#158515");
  grid.selectAll(".My").data(o.yTicks).join("line")
    .attr("y1", py).attr("y2", py).attr("x1", o.left).attr("x2", o.right).attr("stroke", "#158515");

  const id = "plotClip" + (clipCount++);
  defs.append("clipPath").attr("id", id).append("rect")
    .attr("x", o.left).attr("y", o.top).attr("width", o.right - o.left).attr("height", o.bottom - o.top);
  const data = g.append("g").attr("clip-path", `url(#${id})`);

  g.append("rect").attr("x", o.left - 0.5).attr("y", o.top - 0.5).attr("width", o.right - o.left + 1).attr("height", o.bottom - o.top + 1)
    .attr("fill", "none").attr("stroke", "#8a8a8a").attr("shape-rendering", "crispEdges");

  const fs = o.fontSize || 10;
  const ax = g.append("g").attr("transform", `translate(0,${o.bottom + 1})`)
    .call(d3.axisBottom(x).tickValues(o.xTicks).tickSize(4).tickPadding(2).tickFormat(d => String(d)));
  const ay = g.append("g").attr("transform", `translate(${o.left - 1},0)`)
    .call(d3.axisLeft(y).tickValues(o.yTicks).tickSize(5).tickPadding(3).tickFormat(d => String(d)));
  [ax, ay].forEach(a => {
    a.select(".domain").remove();
    a.attr("font-family", null).attr("font-size", fs);
    a.selectAll("line").attr("stroke", "#4a4a4a");
    a.selectAll("text").attr("fill", TEXT);
  });

  if (o.xLabel) {
    const t = svg.append("text").attr("x", (o.left + o.right) / 2).attr("y", o.xLabelY)
      .attr("text-anchor", "middle").attr("font-size", fs + 0.5).attr("fill", TEXT).text(o.xLabel);
    if (o.xLabelClip) t.attr("clip-path", `url(#${o.xLabelClip})`);
  }
  svg.append("text").attr("transform", `translate(${o.yLabelX},${(o.top + o.bottom) / 2}) rotate(-90)`)
    .attr("text-anchor", "middle").attr("dy", "0.35em").attr("font-size", fs).attr("fill", "#3c2a2a").text("Amplitude");

  return { x, y, data };
}

function drawWave(p, envelope, top, peaks, trough) {
  const area = d3.area().x(d => p.x(d[0])).y0(p.y(0)).y1(d => p.y(d[1]));
  p.data.append("path").datum(envelope).attr("d", area)
    .attr("fill", RED).attr("stroke", RED).attr("stroke-width", 1.2).attr("stroke-linejoin", "miter");
  p.data.append("path").datum(trough).attr("d", area)
    .attr("fill", "#ffffff").attr("stroke", "#ffffff").attr("stroke-width", 0.9);
  p.data.append("path").datum(top).attr("d", area)
    .attr("fill", "#ffffff").attr("stroke", "#ffffff").attr("stroke-width", 0.8);
  p.data.selectAll(".pk").data(peaks).join("line")
    .attr("x1", d => p.x(d[0])).attr("x2", d => p.x(d[0]))
    .attr("y1", p.y(0)).attr("y2", d => p.y(d[1]))
    .attr("stroke", "#f4f4f4").attr("stroke-width", 1.2);
}

function drawSpectrum(p, values, filled) {
  if (filled) {
    const area = d3.area().x(d => p.x(d[0])).y0(p.y(0)).y1(d => p.y(d[1]));
    p.data.append("path").datum(values).attr("d", area).attr("fill", "#ffffff");
  }
  const line = d3.line().x(d => p.x(d[0])).y(d => p.y(d[1]));
  p.data.append("path").datum(values).attr("d", line)
    .attr("fill", "none").attr("stroke", "#ffffff").attr("stroke-width", 1);
}

// ----- panel backgrounds -----
panelBg(7, 5, 577, 38);
panelBg(578, 5, 1148, 40);
panelBg(7, 293, 576, 477);
panelBg(578, 293, 1148, 477);
panelBg(7, 480, 576, 693);
panelBg(575, 490, 1140, 693);
panelBg(294, 699, 873, 737);
panelBg(290, 1016, 876, 1236);
panelBg(303, 1243, 864, 1496);

// clip for the cut-off axis name at the bottom of the Y-axis 0-50 Hz spectrum
defs.append("clipPath").attr("id", "cutBottom").append("rect").attr("x", 575).attr("y", 490).attr("width", 565).attr("height", 203);

// ----- X-axis raw waveform -----
graphFrame(7, 38, 577, 292);
title(8, 35, "Raw Waveform and Hilbert Envelope X-Axis", false);
legend(444, 5, 576, 37);
const pX = makePlot({ left: 64, top: 45, right: 559, bottom: 263, xDomain: [0, 10], yDomain: [-2.5, 3],
  xTicks: timeTicks, yTicks: ampTicksX, xMinor: 0.1, yMinor: 0.1, xLabel: "Time", xLabelY: 290, yLabelX: 30 });
drawWave(pX, envelopeX, sourceTopX, sourcePeaksX, sourceTroughX);

// ----- Y-axis raw waveform -----
graphFrame(578, 40, 1148, 292);
title(580, 37, "Raw Waveform and Hilbert Envelope Y-Axis", false);
legend(1013, 6, 1145, 38);
const pY = makePlot({ left: 627, top: 47, right: 1127, bottom: 263, xDomain: [0, 10], yDomain: [-6, 6],
  xTicks: timeTicks, yTicks: ampTicksYZ, xMinor: 0.1, yMinor: 0.2, xLabel: "Time", xLabelY: 290, yLabelX: 601 });
drawWave(pY, envelopeY, sourceTopY, sourcePeaksY, sourceTroughY);

// ----- X-axis spectrum 0-250 Hz -----
title(10, 306, "Hilbert Envelope Detected Spectrum", true);
const sX250 = makePlot({ left: 86, top: 318, right: 562, bottom: 442, xDomain: [0, 250], yDomain: [0, 0.004],
  xTicks: freqTicks250, yTicks: specTicks004, xMinor: 5, yMinor: 0.0002, xLabel: "Frequency (Hz)", xLabelY: 471, yLabelX: 44 });
drawSpectrum(sX250, spectrumX250, true);

// ----- Y-axis spectrum 0-250 Hz -----
title(584, 310, "Hilbert Envelope Detected Spectrum - Y-Axis", true);
const sY250 = makePlot({ left: 658, top: 321, right: 1121, bottom: 444, xDomain: [0, 250], yDomain: [0, 0.004],
  xTicks: freqTicks250, yTicks: specTicks004, xMinor: 5, yMinor: 0.0002, xLabel: "Frequency (Hz)", xLabelY: 473, yLabelX: 617 });
drawSpectrum(sY250, spectrumY250, true);

// ----- X-axis spectrum 0-50 Hz -----
title(10, 494, "Hilbert Envelope Detected Spectrum", true);
const sX50 = makePlot({ left: 86, top: 507, right: 565, bottom: 655, xDomain: [0, 50], yDomain: [0, 0.002],
  xTicks: freqTicks50, yTicks: specTicks002, xMinor: 0.5, yMinor: 0.0001, xLabel: "Frequency (Hz)", xLabelY: 689, yLabelX: 39 });
drawSpectrum(sX50, spectrumX50, false);

// ----- Y-axis spectrum 0-50 Hz -----
title(578, 504, "Hilbert Envelope Detected Spectrum - Y-Axis", true);
const sY50 = makePlot({ left: 654, top: 517, right: 1129, bottom: 662, xDomain: [0, 50], yDomain: [0, 0.003],
  xTicks: freqTicks50, yTicks: specTicks003, xMinor: 0.5, yMinor: 0.0001, xLabel: "Frequency (Hz)", xLabelY: 695, xLabelClip: "cutBottom", yLabelX: 607 });
drawSpectrum(sY50, spectrumY50, false);

// ----- Z-axis raw waveform -----
graphFrame(294, 737, 873, 1012);
title(296, 734, "Raw Waveform and Hilbert Envelope Z-Axis", false);
legend(735, 700, 871, 736);
const pZ = makePlot({ left: 345, top: 745, right: 850, bottom: 981, xDomain: [0, 10], yDomain: [-6, 6],
  xTicks: timeTicks, yTicks: ampTicksYZ, xMinor: 0.1, yMinor: 0.2, xLabel: "Time", xLabelY: 1010, yLabelX: 318 });
drawWave(pZ, envelopeZ, sourceTopZ, sourcePeaksZ, sourceTroughZ);

// ----- Z-axis spectrum 0-250 Hz -----
title(293, 1031, "Hilbert Envelope Detected Spectrum Z-Axis", true);
const sZ250 = makePlot({ left: 372, top: 1045, right: 858, bottom: 1195, xDomain: [0, 250], yDomain: [0, 0.004],
  xTicks: freqTicks250, yTicks: specTicks004, xMinor: 5, yMinor: 0.0002, xLabel: "Frequency (Hz)", xLabelY: 1229, yLabelX: 329 });
drawSpectrum(sZ250, spectrumZ250, true);

// ----- Z-axis spectrum 0-50 Hz -----
title(306, 1257, "Hilbert Envelope Detected Spectrum Z-Axis", true);
const sZ50 = makePlot({ left: 381, top: 1273, right: 853, bottom: 1450, xDomain: [0, 50], yDomain: [0, 0.002],
  xTicks: freqTicks50, yTicks: specTicks002, xMinor: 0.5, yMinor: 0.0001, xLabel: "Frequency (Hz)", xLabelY: 1489, yLabelX: 334, fontSize: 10.5 });
drawSpectrum(sZ50, spectrumZ50, false);
</script>
</body>
</html>
